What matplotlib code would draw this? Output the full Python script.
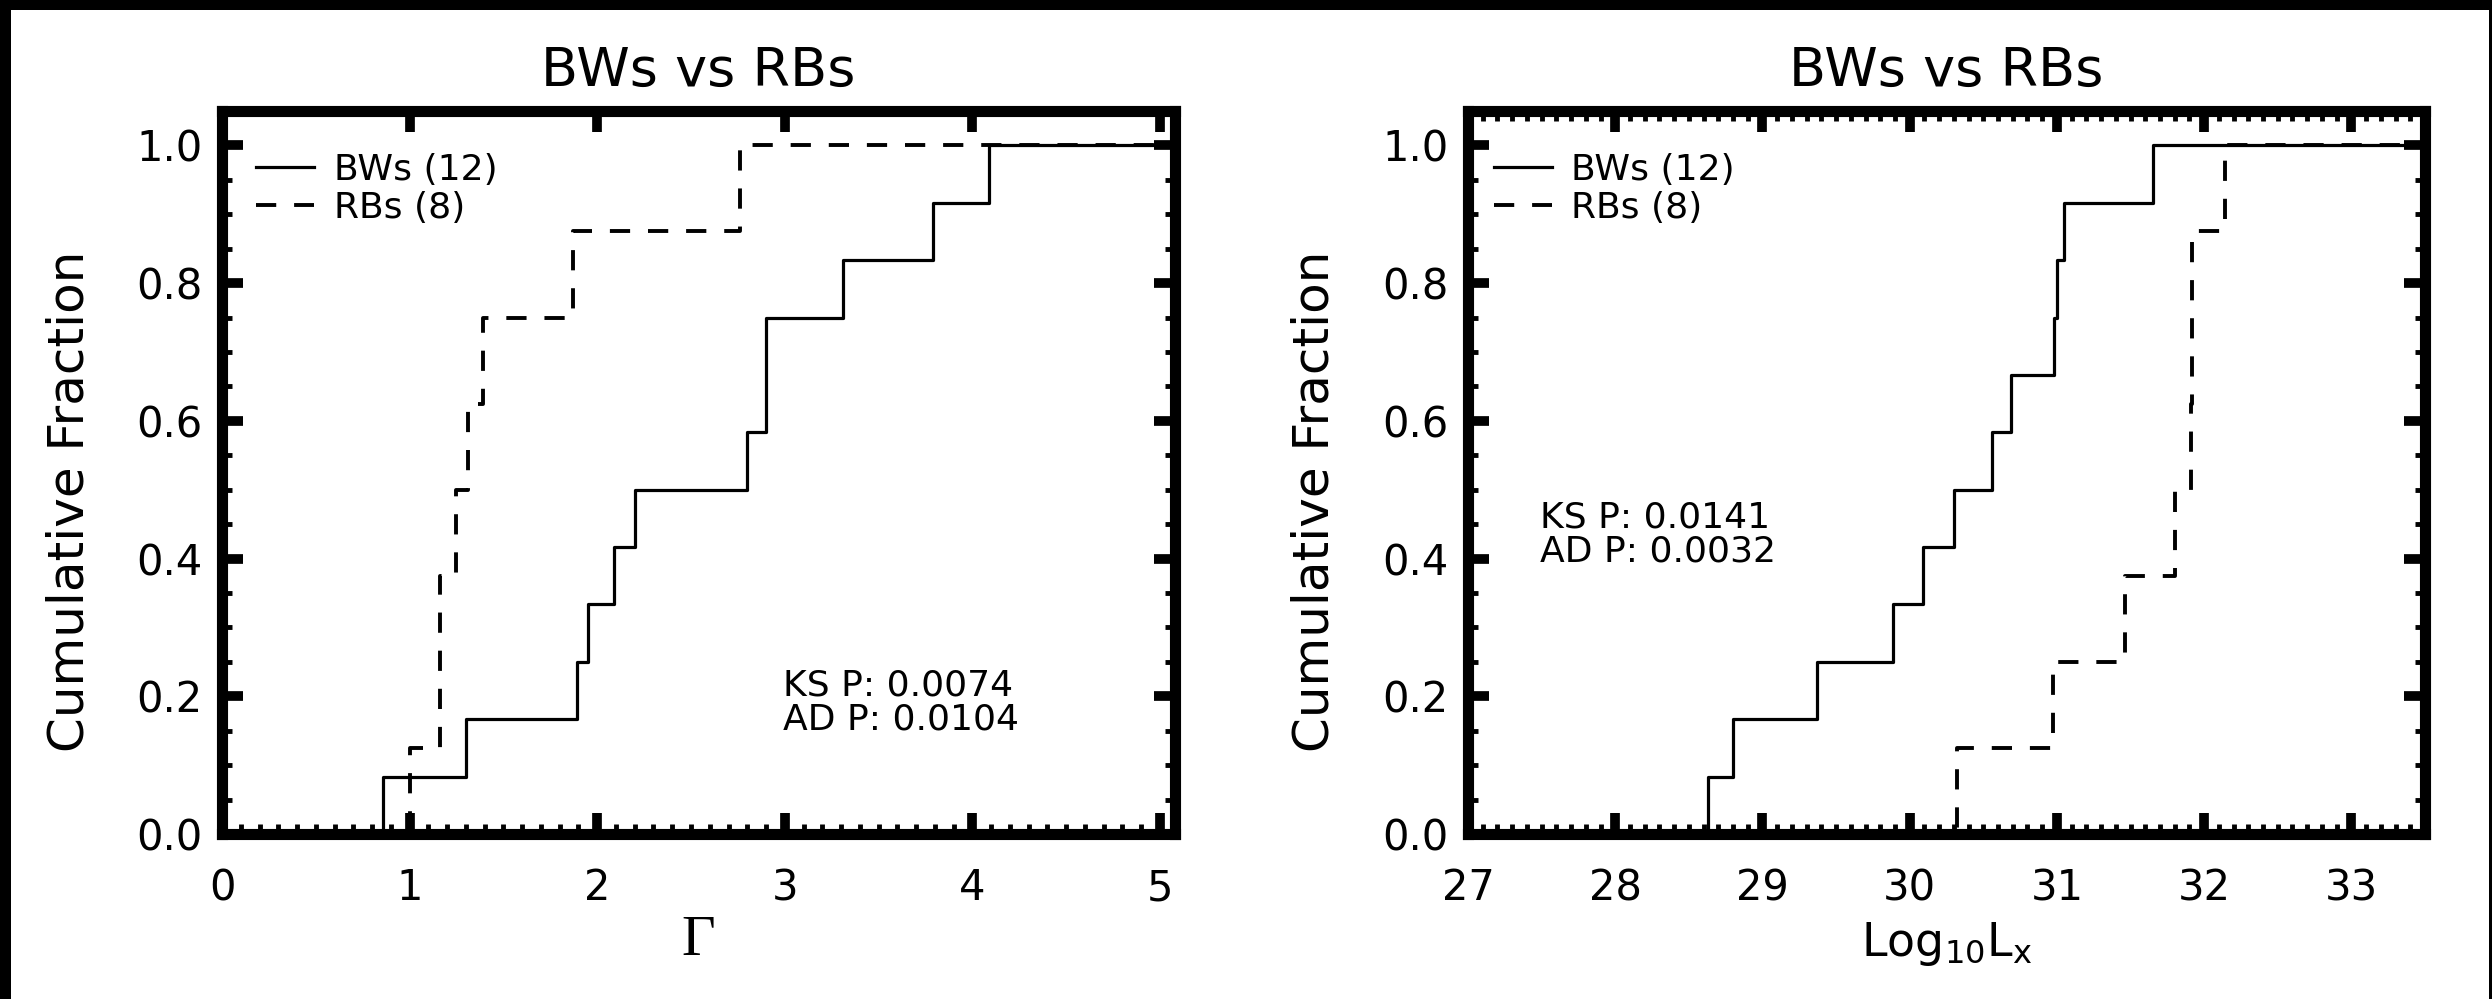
import matplotlib
matplotlib.use("Agg")
import matplotlib.pyplot as plt
import numpy as np
from matplotlib.patches import Rectangle
from matplotlib.ticker import FormatStrFormatter, MultipleLocator

# photon index per source
gamma_bw = [0.86, 1.30, 1.89, 1.95, 2.09, 2.20, 2.80, 2.90, 2.90, 3.31, 3.79, 4.09]
gamma_rb = [1.00, 1.16, 1.16, 1.25, 1.31, 1.39, 1.87, 2.76]
# log10 of the X-ray luminosity per source
lx_bw = [28.63, 28.80, 29.37, 29.89, 30.09, 30.30, 30.56, 30.69, 30.98, 31.00, 31.05, 31.65]
lx_rb = [30.32, 30.97, 31.46, 31.80, 31.91, 31.92, 31.92, 32.14]

ks_p = ["0.0074", "0.0141"]
ad_p = ["0.0104", "0.0032"]
xlims = [(0, 5.08), (27, 33.5)]
xlabels = ["Γ", r"$\mathrm{Log}_{10}\mathrm{L}_{\mathrm{x}}$"]
stat_pos = [(0.589, 0.205), (0.075, 0.438)]
legend_pos = [(0.036, 0.942), (0.027, 0.942)]

plt.rcParams["font.family"] = ["DejaVu Sans"]
plt.rcParams["mathtext.fontset"] = "dejavusans"


def ecdf(vals, lo, hi):
    v = np.sort(vals)
    n = len(v)
    x = np.concatenate([[lo], v, [hi]])
    y = np.concatenate([[0.0], np.arange(1, n + 1) / n, [1.0]])
    return x, y


W, H = 2492, 999
fig = plt.figure(figsize=(W / 100, H / 100), dpi=100, facecolor="white")
# black frame strips along the top, left and right edges
for x0, y0, w, h in [(0, H - 10, W, 10), (0, 0, 11, H), (W - 3, 0, 3, H)]:
    fig.add_artist(Rectangle((x0 / W, y0 / H), w / W, h / H,
                             transform=fig.transFigure, facecolor="black",
                             edgecolor="none", zorder=5))

axes = [fig.add_axes([222 / W, 0.1652, 953 / W, 0.7237]),
        fig.add_axes([1468 / W, 0.1652, 957 / W, 0.7237])]
data = [(gamma_bw, gamma_rb), (lx_bw, lx_rb)]

for i, ax in enumerate(axes):
    bw, rb = data[i]
    lo, hi = xlims[i]
    xb, yb = ecdf(bw, lo, hi)
    xr, yr = ecdf(rb, lo, hi)
    ax.step(xb, yb, where="post", color="black", lw=2.3,
            label=f"BWs ({len(bw)})")
    ax.step(xr, yr, where="post", color="black", lw=2.8,
            dashes=(5.2, 4.6), label=f"RBs ({len(rb)})")

    ax.set_xlim(lo, hi)
    ax.set_ylim(0, 1.05)
    ax.xaxis.set_major_locator(MultipleLocator(1))
    ax.xaxis.set_minor_locator(MultipleLocator(0.1))
    ax.yaxis.set_major_locator(MultipleLocator(0.2))
    ax.yaxis.set_minor_locator(MultipleLocator(0.05))
    ax.yaxis.set_major_formatter(FormatStrFormatter("%.1f"))

    for s in ax.spines.values():
        s.set_linewidth(8)
    ax.tick_params(which="both", direction="in", top=True, right=True)
    ax.tick_params(which="major", length=15, width=7, labelsize=30)
    ax.tick_params(which="minor", length=7, width=3.5)
    ax.tick_params(axis="y", which="major", pad=14)
    ax.tick_params(axis="x", which="major", pad=24)
    if i == 0:
        ax.tick_params(axis="x", which="minor", top=False)

    ax.set_title("BWs vs RBs", fontsize=39, pad=18)
    ax.set_ylabel("Cumulative Fraction", fontsize=36)
    ax.yaxis.set_label_coords(-0.135, 0.46)
    if i == 0:
        ax.set_xlabel(xlabels[i], fontsize=42, labelpad=4,
                      fontfamily="Liberation Serif")
    else:
        ax.set_xlabel(xlabels[i], fontsize=33, labelpad=8)

    sx, sy = stat_pos[i]
    ax.text(sx, sy, f"KS P: {ks_p[i]}", transform=ax.transAxes,
            fontsize=26, va="center", ha="left")
    ax.text(sx, sy - 0.047, f"AD P: {ad_p[i]}", transform=ax.transAxes,
            fontsize=26, va="center", ha="left")

    ax.legend(loc="upper left", bbox_to_anchor=legend_pos[i], frameon=False,
              fontsize=26, handlelength=1.6, handletextpad=0.55,
              labelspacing=0.1, borderpad=0, borderaxespad=0)

fig.savefig("out.png", dpi=100)
